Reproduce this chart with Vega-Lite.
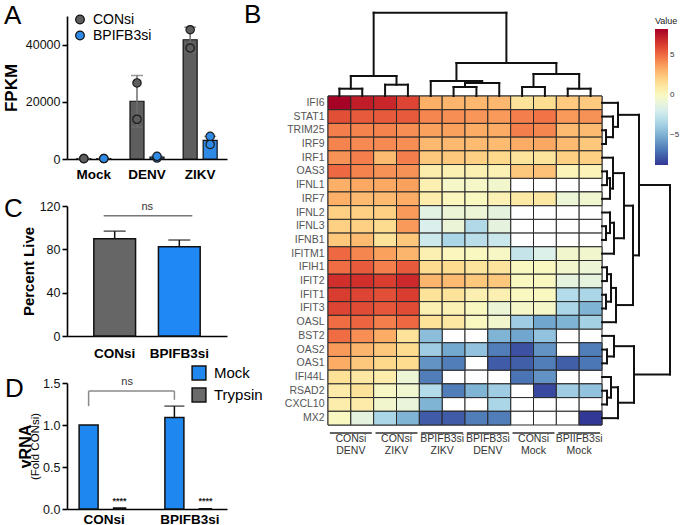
{
"$schema": "https://vega.github.io/schema/vega-lite/v6.json",
"padding": {"left": 2, "top": 1, "right": 0, "bottom": 0},
"config": {
  "font": "Liberation Sans",
  "view": {"stroke": null},
  "axis": {"grid": false, "domainColor": "#000", "domainWidth": 1.6, "tickColor": "#000", "tickWidth": 1.6, "tickSize": 5, "labelColor": "#111", "labelFontSize": 12.5, "titleColor": "#000", "labelFont": "Liberation Sans", "titleFont": "Liberation Sans"},
  "legend": {"labelFont": "Liberation Sans", "titleFont": "Liberation Sans"},
  "title": {"font": "Liberation Sans", "fontSize": 26, "fontWeight": "normal", "anchor": "start", "frame": "group", "color": "#000", "offset": 0}
},
"datasets": {
  "aBars": [
    {"cond": "Mock", "grp": "CONsi", "mean": 150, "lo": 100, "hi": 200},
    {"cond": "Mock", "grp": "BPIFB3si", "mean": 150, "lo": 100, "hi": 200},
    {"cond": "DENV", "grp": "CONsi", "mean": 20200, "lo": 11200, "hi": 29200},
    {"cond": "DENV", "grp": "BPIFB3si", "mean": 650, "lo": 350, "hi": 950},
    {"cond": "ZIKV", "grp": "CONsi", "mean": 41700, "lo": 37300, "hi": 46100},
    {"cond": "ZIKV", "grp": "BPIFB3si", "mean": 6500, "lo": 5100, "hi": 7900}
  ],
  "aPts": [
    {"cond": "Mock", "grp": "CONsi", "fpkm": 160}, {"cond": "Mock", "grp": "CONsi", "fpkm": 140},
    {"cond": "Mock", "grp": "BPIFB3si", "fpkm": 150}, {"cond": "Mock", "grp": "BPIFB3si", "fpkm": 170},
    {"cond": "DENV", "grp": "CONsi", "fpkm": 26600}, {"cond": "DENV", "grp": "CONsi", "fpkm": 13900},
    {"cond": "DENV", "grp": "BPIFB3si", "fpkm": 350}, {"cond": "DENV", "grp": "BPIFB3si", "fpkm": 940},
    {"cond": "ZIKV", "grp": "CONsi", "fpkm": 45200}, {"cond": "ZIKV", "grp": "CONsi", "fpkm": 38800},
    {"cond": "ZIKV", "grp": "BPIFB3si", "fpkm": 7900}, {"cond": "ZIKV", "grp": "BPIFB3si", "fpkm": 5100}
  ],
  "cBars": [
    {"grp": "CONsi", "live": 89.8, "hi": 96.8},
    {"grp": "BPIFB3si", "live": 82.5, "hi": 88.6}
  ],
  "cNs": [{"from": "CONsi", "to": "BPIFB3si", "y": 111, "ty": 119, "label": "ns"}],
  "dBars": [
    {"grp": "CONsi", "trt": "Mock", "v": 1.0},
    {"grp": "CONsi", "trt": "Trypsin", "v": 0.012},
    {"grp": "BPIFB3si", "trt": "Mock", "v": 1.09, "hi": 1.225},
    {"grp": "BPIFB3si", "trt": "Trypsin", "v": 0.003}
  ],
  "dStars": [
    {"grp": "CONsi", "trt": "Trypsin", "y": 0.1, "label": "****"},
    {"grp": "BPIFB3si", "trt": "Trypsin", "y": 0.1, "label": "****"}
  ],
  "dBracket": [
    {"a": "CONsi", "b": "CONsi", "y": 1.224, "y2": 1.404},
    {"a": "CONsi", "b": "BPIFB3si", "y": 1.404, "y2": 1.404},
    {"a": "BPIFB3si", "b": "BPIFB3si", "y": 1.30, "y2": 1.404}
  ],
  "dNs": [{"a": "CONsi", "y": 1.51, "label": "ns"}],
  "heat": [
    {"gene": "IFI6", "CD1": 8.2, "CD2": 7.3, "CZ1": 7.0, "CZ2": 6.1, "BZ1": 3.2, "BZ2": 3.0, "BD1": 2.9, "BD2": 2.9, "CM1": 1.3, "CM2": 1.6, "BM1": 2.3, "BM2": 2.3},
    {"gene": "STAT1", "CD1": 5.8, "CD2": 5.5, "CZ1": 5.5, "CZ2": 5.5, "BZ1": 4.3, "BZ2": 4.1, "BD1": 3.9, "BD2": 3.8, "CM1": 4.5, "CM2": 4.8, "BM1": 3.8, "BM2": 4.0},
    {"gene": "TRIM25", "CD1": 4.5, "CD2": 4.4, "CZ1": 4.4, "CZ2": 4.1, "BZ1": 3.6, "BZ2": 3.6, "BD1": 3.3, "BD2": 3.3, "CM1": 4.5, "CM2": 4.3, "BM1": 2.8, "BM2": 2.8},
    {"gene": "IRF9", "CD1": 4.4, "CD2": 4.2, "CZ1": 4.2, "CZ2": 4.1, "BZ1": 2.9, "BZ2": 2.9, "BD1": 2.8, "BD2": 2.8, "CM1": 3.3, "CM2": 3.4, "BM1": 2.8, "BM2": 2.4},
    {"gene": "IRF1", "CD1": 4.0, "CD2": 4.5, "CZ1": 2.8, "CZ2": 4.5, "BZ1": 2.4, "BZ2": 2.4, "BD1": 2.1, "BD2": 1.8, "CM1": 1.2, "CM2": 1.2, "BM1": 2.1, "BM2": 2.1},
    {"gene": "OAS3", "CD1": 5.1, "CD2": 4.4, "CZ1": 4.0, "CZ2": 4.0, "BZ1": 0.7, "BZ2": 0.5, "BD1": 0.5, "BD2": 0.4, "CM1": 2.4, "CM2": 2.6, "BM1": 0.3, "BM2": 0.3},
    {"gene": "IFNL1", "CD1": 3.2, "CD2": 3.4, "CZ1": 3.4, "CZ2": 3.6, "BZ1": 0.5, "BZ2": -0.3, "BD1": -0.3, "BD2": -0.5, "CM1": null, "CM2": null, "BM1": null, "BM2": null},
    {"gene": "IRF7", "CD1": 3.2, "CD2": 2.8, "CZ1": 2.8, "CZ2": 3.3, "BZ1": 0.7, "BZ2": 0.1, "BD1": 0.0, "BD2": 0.4, "CM1": 0.9, "CM2": 1.0, "BM1": -0.8, "BM2": -0.6},
    {"gene": "IFNL2", "CD1": 2.1, "CD2": 2.1, "CZ1": 2.1, "CZ2": 3.8, "BZ1": -1.4, "BZ2": -0.8, "BD1": -0.8, "BD2": -1.2, "CM1": null, "CM2": null, "BM1": null, "BM2": null},
    {"gene": "IFNL3", "CD1": 2.1, "CD2": 2.1, "CZ1": 1.7, "CZ2": 3.8, "BZ1": -1.8, "BZ2": -0.9, "BD1": -3.3, "BD2": -1.2, "CM1": null, "CM2": null, "BM1": null, "BM2": null},
    {"gene": "IFNB1", "CD1": 2.4, "CD2": 2.8, "CZ1": 1.3, "CZ2": 2.4, "BZ1": -2.3, "BZ2": -3.5, "BD1": -3.0, "BD2": -2.4, "CM1": null, "CM2": null, "BM1": null, "BM2": null},
    {"gene": "IFITM1", "CD1": 5.1, "CD2": 4.3, "CZ1": 3.6, "CZ2": 3.0, "BZ1": 0.5, "BZ2": 0.1, "BD1": 0.0, "BD2": -0.2, "CM1": -2.6, "CM2": -1.7, "BM1": -0.5, "BM2": -0.5},
    {"gene": "IFIH1", "CD1": 5.0, "CD2": 5.5, "CZ1": 4.5, "CZ2": 5.5, "BZ1": 1.7, "BZ2": 1.7, "BD1": 1.2, "BD2": 1.2, "CM1": 0.0, "CM2": 0.0, "BM1": -0.5, "BM2": -0.8},
    {"gene": "IFIT2", "CD1": 6.7, "CD2": 6.7, "CZ1": 6.3, "CZ2": 6.9, "BZ1": 3.0, "BZ2": 2.8, "BD1": 2.4, "BD2": 2.4, "CM1": 0.0, "CM2": 0.0, "BM1": -1.2, "BM2": -1.2},
    {"gene": "IFIT1", "CD1": 6.3, "CD2": 6.1, "CZ1": 5.8, "CZ2": 6.3, "BZ1": 1.3, "BZ2": 1.3, "BD1": 0.5, "BD2": 0.5, "CM1": 0.0, "CM2": 0.0, "BM1": -3.2, "BM2": -3.5},
    {"gene": "IFIT3", "CD1": 6.1, "CD2": 5.9, "CZ1": 5.6, "CZ2": 5.9, "BZ1": 0.5, "BZ2": 0.4, "BD1": 0.0, "BD2": -0.8, "CM1": -0.3, "CM2": -0.3, "BM1": -3.5, "BM2": -4.9},
    {"gene": "OASL", "CD1": 5.0, "CD2": 5.2, "CZ1": 4.5, "CZ2": 5.1, "BZ1": 1.3, "BZ2": 1.0, "BD1": 0.0, "BD2": -0.5, "CM1": -3.9, "CM2": -5.4, "BM1": -4.9, "BM2": -3.7},
    {"gene": "BST2", "CD1": 5.0, "CD2": 4.1, "CZ1": 3.3, "CZ2": 1.3, "BZ1": -4.5, "BZ2": null, "BD1": null, "BD2": -4.9, "CM1": -5.4, "CM2": -4.3, "BM1": null, "BM2": null},
    {"gene": "OAS2", "CD1": 3.8, "CD2": 3.0, "CZ1": 2.4, "CZ2": 1.7, "BZ1": -3.9, "BZ2": -5.3, "BD1": -4.3, "BD2": -6.7, "CM1": -8.0, "CM2": -6.0, "BM1": null, "BM2": -6.7},
    {"gene": "OAS1", "CD1": 3.3, "CD2": 2.4, "CZ1": 1.8, "CZ2": 1.7, "BZ1": -6.0, "BZ2": -6.7, "BD1": null, "BD2": -7.7, "CM1": -7.6, "CM2": -6.7, "BM1": -7.6, "BM2": -6.9},
    {"gene": "IFI44L", "CD1": 1.4, "CD2": 1.0, "CZ1": 0.7, "CZ2": -0.8, "BZ1": -6.7, "BZ2": null, "BD1": null, "BD2": null, "CM1": -7.0, "CM2": -6.0, "BM1": null, "BM2": null},
    {"gene": "RSAD2", "CD1": 0.8, "CD2": 1.3, "CZ1": -0.2, "CZ2": -0.6, "BZ1": -3.2, "BZ2": -6.7, "BD1": -4.9, "BD2": -3.9, "CM1": null, "CM2": -8.2, "BM1": -3.9, "BM2": -4.3},
    {"gene": "CXCL10", "CD1": 0.7, "CD2": 0.8, "CZ1": -0.5, "CZ2": -1.0, "BZ1": -4.9, "BZ2": null, "BD1": null, "BD2": -3.5, "CM1": null, "CM2": null, "BM1": null, "BM2": null},
    {"gene": "MX2", "CD1": 0.0, "CD2": -1.2, "CZ1": -3.5, "CZ2": -4.9, "BZ1": -7.7, "BZ2": -7.7, "BD1": -6.7, "BD2": -6.7, "CM1": null, "CM2": null, "BM1": null, "BM2": -8.7}
  ],
  "glabels": [
    {"g": "CONsi\nDENV"}, {"g": "CONsi\nZIKV"}, {"g": "BPIFB3si\nZIKV"},
    {"g": "BPIFB3si\nDENV"}, {"g": "CONsi\nMock"}, {"g": "BPIIFB3si\nMock"}
  ],
  "tden": [
    {"p1": 0.5, "p2": 0.5, "h1": 0, "h2": 7.3}, {"p1": 1.5, "p2": 1.5, "h1": 0, "h2": 7.3}, {"p1": 0.5, "p2": 1.5, "h1": 7.3, "h2": 7.3},
    {"p1": 2.5, "p2": 2.5, "h1": 0, "h2": 11.3}, {"p1": 3.5, "p2": 3.5, "h1": 0, "h2": 11.3}, {"p1": 2.5, "p2": 3.5, "h1": 11.3, "h2": 11.3},
    {"p1": 1, "p2": 1, "h1": 7.3, "h2": 20}, {"p1": 3, "p2": 3, "h1": 11.3, "h2": 20}, {"p1": 1, "p2": 3, "h1": 20, "h2": 20},
    {"p1": 5.5, "p2": 5.5, "h1": 0, "h2": 9}, {"p1": 6.5, "p2": 6.5, "h1": 0, "h2": 9}, {"p1": 5.5, "p2": 6.5, "h1": 9, "h2": 9},
    {"p1": 6, "p2": 6, "h1": 9, "h2": 13}, {"p1": 7.5, "p2": 7.5, "h1": 0, "h2": 13}, {"p1": 6, "p2": 7.5, "h1": 13, "h2": 13},
    {"p1": 4.5, "p2": 4.5, "h1": 0, "h2": 15}, {"p1": 6.75, "p2": 6.75, "h1": 13, "h2": 15}, {"p1": 4.5, "p2": 6.75, "h1": 15, "h2": 15},
    {"p1": 8.5, "p2": 8.5, "h1": 0, "h2": 9}, {"p1": 9.5, "p2": 9.5, "h1": 0, "h2": 9}, {"p1": 8.5, "p2": 9.5, "h1": 9, "h2": 9},
    {"p1": 10.5, "p2": 10.5, "h1": 0, "h2": 7.3}, {"p1": 11.5, "p2": 11.5, "h1": 0, "h2": 7.3}, {"p1": 10.5, "p2": 11.5, "h1": 7.3, "h2": 7.3},
    {"p1": 9, "p2": 9, "h1": 9, "h2": 22}, {"p1": 11, "p2": 11, "h1": 7.3, "h2": 22}, {"p1": 9, "p2": 11, "h1": 22, "h2": 22},
    {"p1": 5.625, "p2": 5.625, "h1": 15, "h2": 33}, {"p1": 10, "p2": 10, "h1": 22, "h2": 33}, {"p1": 5.625, "p2": 10, "h1": 33, "h2": 33},
    {"p1": 2, "p2": 2, "h1": 20, "h2": 83.3}, {"p1": 7.8125, "p2": 7.8125, "h1": 33, "h2": 83.3}, {"p1": 2, "p2": 7.8125, "h1": 83.3, "h2": 83.3}
  ],
  "rden": [
    {"d1": 0, "d2": 4, "r1": 2.5, "r2": 2.5}, {"d1": 0, "d2": 4, "r1": 3.5, "r2": 3.5}, {"d1": 4, "d2": 4, "r1": 2.5, "r2": 3.5},
    {"d1": 0, "d2": 11, "r1": 1.5, "r2": 1.5}, {"d1": 4, "d2": 11, "r1": 3, "r2": 3}, {"d1": 11, "d2": 11, "r1": 1.5, "r2": 3},
    {"d1": 0, "d2": 16, "r1": 0.5, "r2": 0.5}, {"d1": 11, "d2": 16, "r1": 2.25, "r2": 2.25}, {"d1": 16, "d2": 16, "r1": 0.5, "r2": 2.25},
    {"d1": 0, "d2": 5, "r1": 5.5, "r2": 5.5}, {"d1": 0, "d2": 5, "r1": 6.5, "r2": 6.5}, {"d1": 5, "d2": 5, "r1": 5.5, "r2": 6.5},
    {"d1": 5, "d2": 8, "r1": 6, "r2": 6}, {"d1": 0, "d2": 8, "r1": 7.5, "r2": 7.5}, {"d1": 8, "d2": 8, "r1": 6, "r2": 7.5},
    {"d1": 0, "d2": 11, "r1": 4.5, "r2": 4.5}, {"d1": 8, "d2": 11, "r1": 6.75, "r2": 6.75}, {"d1": 11, "d2": 11, "r1": 4.5, "r2": 6.75},
    {"d1": 0, "d2": 4, "r1": 9.5, "r2": 9.5}, {"d1": 0, "d2": 4, "r1": 10.5, "r2": 10.5}, {"d1": 4, "d2": 4, "r1": 9.5, "r2": 10.5},
    {"d1": 0, "d2": 8, "r1": 8.5, "r2": 8.5}, {"d1": 4, "d2": 8, "r1": 10, "r2": 10}, {"d1": 8, "d2": 8, "r1": 8.5, "r2": 10},
    {"d1": 8, "d2": 12, "r1": 9.25, "r2": 9.25}, {"d1": 0, "d2": 12, "r1": 11.5, "r2": 11.5}, {"d1": 12, "d2": 12, "r1": 9.25, "r2": 11.5},
    {"d1": 11, "d2": 22, "r1": 5.625, "r2": 5.625}, {"d1": 12, "d2": 22, "r1": 10.375, "r2": 10.375}, {"d1": 22, "d2": 22, "r1": 5.625, "r2": 10.375},
    {"d1": 0, "d2": 5, "r1": 12.5, "r2": 12.5}, {"d1": 0, "d2": 5, "r1": 13.5, "r2": 13.5}, {"d1": 5, "d2": 5, "r1": 12.5, "r2": 13.5},
    {"d1": 0, "d2": 4, "r1": 14.5, "r2": 14.5}, {"d1": 0, "d2": 4, "r1": 15.5, "r2": 15.5}, {"d1": 4, "d2": 4, "r1": 14.5, "r2": 15.5},
    {"d1": 5, "d2": 9, "r1": 13, "r2": 13}, {"d1": 4, "d2": 9, "r1": 15, "r2": 15}, {"d1": 9, "d2": 9, "r1": 13, "r2": 15},
    {"d1": 9, "d2": 14, "r1": 14, "r2": 14}, {"d1": 0, "d2": 14, "r1": 16.5, "r2": 16.5}, {"d1": 14, "d2": 14, "r1": 14, "r2": 16.5},
    {"d1": 22, "d2": 31, "r1": 8, "r2": 8}, {"d1": 14, "d2": 31, "r1": 15.25, "r2": 15.25}, {"d1": 31, "d2": 31, "r1": 8, "r2": 15.25},
    {"d1": 16, "d2": 37, "r1": 1.375, "r2": 1.375}, {"d1": 31, "d2": 37, "r1": 11.625, "r2": 11.625}, {"d1": 37, "d2": 37, "r1": 1.375, "r2": 11.625},
    {"d1": 0, "d2": 5, "r1": 18.5, "r2": 18.5}, {"d1": 0, "d2": 5, "r1": 19.5, "r2": 19.5}, {"d1": 5, "d2": 5, "r1": 18.5, "r2": 19.5},
    {"d1": 0, "d2": 12, "r1": 17.5, "r2": 17.5}, {"d1": 5, "d2": 12, "r1": 19, "r2": 19}, {"d1": 12, "d2": 12, "r1": 17.5, "r2": 19},
    {"d1": 0, "d2": 5, "r1": 21.5, "r2": 21.5}, {"d1": 0, "d2": 5, "r1": 22.5, "r2": 22.5}, {"d1": 5, "d2": 5, "r1": 21.5, "r2": 22.5},
    {"d1": 0, "d2": 9, "r1": 20.5, "r2": 20.5}, {"d1": 5, "d2": 9, "r1": 22, "r2": 22}, {"d1": 9, "d2": 9, "r1": 20.5, "r2": 22},
    {"d1": 9, "d2": 16, "r1": 21.25, "r2": 21.25}, {"d1": 0, "d2": 16, "r1": 23.5, "r2": 23.5}, {"d1": 16, "d2": 16, "r1": 21.25, "r2": 23.5},
    {"d1": 12, "d2": 32, "r1": 18.25, "r2": 18.25}, {"d1": 16, "d2": 32, "r1": 22.375, "r2": 22.375}, {"d1": 32, "d2": 32, "r1": 18.25, "r2": 22.375},
    {"d1": 37, "d2": 68, "r1": 6.5, "r2": 6.5}, {"d1": 32, "d2": 68, "r1": 20.3125, "r2": 20.3125}, {"d1": 68, "d2": 68, "r1": 6.5, "r2": 20.3125}
  ]
},
"spacing": 261,
"bounds": "flush",
"resolve": {"scale": {"color": "independent", "fill": "independent"}, "legend": {"color": "independent", "fill": "independent"}},
"hconcat": [
  {
    "spacing": 47,
    "bounds": "flush",
    "resolve": {"scale": {"color": "independent", "fill": "independent"}, "legend": {"color": "independent", "fill": "independent"}},
    "vconcat": [
      {
        "title": {"text": "A", "dx": -63, "dy": 20.5},
        "width": 160, "height": 143,
        "data": {"name": "aBars"},
        "layer": [
          {
            "transform": [{"filter": "datum.grp == 'CONsi'"}],
            "mark": {"type": "bar", "stroke": "#111", "strokeWidth": 1.2, "width": 14, "xOffset": -10},
            "encoding": {
              "x": {"field": "cond", "type": "nominal", "scale": {"domain": ["Mock", "DENV", "ZIKV"], "paddingInner": 0.364, "paddingOuter": 0.187}, "axis": {"title": null, "labelAngle": 0, "labelFontWeight": "bold", "labelFontSize": 13.5, "ticks": false, "labelPadding": 8, "labelColor": "#000"}},
              "y": {"field": "mean", "type": "quantitative", "scale": {"domain": [0, 50000], "nice": false}, "axis": {"title": "FPKM", "titleFontSize": 17, "titleFontWeight": "bold", "values": [0, 10000, 20000, 30000, 40000, 50000], "format": "d", "titlePadding": 5}},
              "color": {"field": "grp", "type": "nominal", "scale": {"domain": ["CONsi", "BPIFB3si"], "range": ["#5e5e5e", "#2f8ae6"]}, "legend": {"orient": "none", "legendX": 6, "legendY": -3.5, "title": null, "labelFontSize": 14, "labelColor": "#000", "symbolSize": 75, "symbolType": "circle", "rowPadding": 2, "labelOffset": 6, "symbolStrokeColor": "#111", "symbolStrokeWidth": 1.2}}
            }
          },
          {
            "transform": [{"filter": "datum.grp == 'BPIFB3si'"}],
            "mark": {"type": "bar", "stroke": "#111", "strokeWidth": 1.2, "width": 14, "xOffset": 10},
            "encoding": {
              "x": {"field": "cond", "type": "nominal"},
              "y": {"field": "mean", "type": "quantitative"},
              "color": {"field": "grp", "type": "nominal"}
            }
          },
          {
            "transform": [{"filter": "datum.grp == 'CONsi'"}],
            "mark": {"type": "rule", "color": "#6e6e6e", "strokeWidth": 1.5, "xOffset": -10},
            "encoding": {"x": {"field": "cond", "type": "nominal"}, "y": {"field": "lo", "type": "quantitative"}, "y2": {"field": "hi"}}
          },
          {
            "transform": [{"filter": "datum.grp == 'BPIFB3si'"}],
            "mark": {"type": "rule", "color": "#6e6e6e", "strokeWidth": 1.5, "xOffset": 10},
            "encoding": {"x": {"field": "cond", "type": "nominal"}, "y": {"field": "lo", "type": "quantitative"}, "y2": {"field": "hi"}}
          },
          {
            "transform": [{"filter": "datum.grp == 'CONsi'"}],
            "mark": {"type": "tick", "orient": "horizontal", "size": 12, "thickness": 1.5, "color": "#6e6e6e", "xOffset": -10},
            "encoding": {"x": {"field": "cond", "type": "nominal"}, "y": {"field": "hi", "type": "quantitative"}}
          },
          {
            "transform": [{"filter": "datum.grp == 'CONsi'"}],
            "mark": {"type": "tick", "orient": "horizontal", "size": 12, "thickness": 1.5, "color": "#6e6e6e", "xOffset": -10},
            "encoding": {"x": {"field": "cond", "type": "nominal"}, "y": {"field": "lo", "type": "quantitative"}}
          },
          {
            "transform": [{"filter": "datum.grp == 'BPIFB3si'"}],
            "mark": {"type": "tick", "orient": "horizontal", "size": 12, "thickness": 1.5, "color": "#6e6e6e", "xOffset": 10},
            "encoding": {"x": {"field": "cond", "type": "nominal"}, "y": {"field": "hi", "type": "quantitative"}}
          },
          {
            "data": {"name": "aPts"},
            "transform": [{"filter": "datum.grp == 'CONsi'"}],
            "mark": {"type": "point", "filled": true, "size": 70, "stroke": "#1a1a1a", "strokeWidth": 1.2, "opacity": 1, "xOffset": -10},
            "encoding": {"x": {"field": "cond", "type": "nominal"}, "y": {"field": "fpkm", "type": "quantitative"}, "color": {"field": "grp", "type": "nominal"}}
          },
          {
            "data": {"name": "aPts"},
            "transform": [{"filter": "datum.grp == 'BPIFB3si'"}],
            "mark": {"type": "point", "filled": true, "size": 70, "stroke": "#1a1a1a", "strokeWidth": 1.2, "opacity": 1, "xOffset": 10},
            "encoding": {"x": {"field": "cond", "type": "nominal"}, "y": {"field": "fpkm", "type": "quantitative"}, "color": {"field": "grp", "type": "nominal"}}
          }
        ]
      },
      {
        "title": {"text": "C", "dx": -63, "dy": 26},
        "width": 160, "height": 130,
        "data": {"name": "cBars"},
        "layer": [
          {
            "mark": {"type": "bar", "stroke": "#111", "strokeWidth": 1.5},
            "encoding": {
              "x": {"field": "grp", "type": "nominal", "scale": {"domain": ["CONsi", "BPIFB3si"], "paddingInner": 0.354, "paddingOuter": 0.415}, "axis": {"title": null, "labelAngle": 0, "labelFontWeight": "bold", "labelFontSize": 13.5, "ticks": false, "labelPadding": 10, "labelColor": "#000"}},
              "y": {"field": "live", "type": "quantitative", "scale": {"domain": [0, 120], "nice": false}, "axis": {"title": "Percent Live", "titleFontSize": 15, "titleFontWeight": "bold", "values": [0, 20, 40, 60, 80, 100, 120], "titlePadding": 3}},
              "fill": {"field": "grp", "type": "nominal", "scale": {"domain": ["CONsi", "BPIFB3si"], "range": ["#666666", "#1f88f5"]}, "legend": null}
            }
          },
          {
            "mark": {"type": "rule", "color": "#111", "strokeWidth": 1.5},
            "encoding": {"x": {"field": "grp", "type": "nominal"}, "y": {"field": "live", "type": "quantitative"}, "y2": {"field": "hi"}}
          },
          {
            "mark": {"type": "tick", "orient": "horizontal", "size": 22, "thickness": 1.5, "color": "#111"},
            "encoding": {"x": {"field": "grp", "type": "nominal"}, "y": {"field": "hi", "type": "quantitative"}}
          },
          {
            "data": {"name": "cNs"},
            "mark": {"type": "rule", "color": "#777", "strokeWidth": 1.5, "xOffset": -11, "x2Offset": 13},
            "encoding": {"x": {"field": "from", "type": "nominal"}, "x2": {"field": "to"}, "y": {"field": "y", "type": "quantitative"}}
          },
          {
            "data": {"name": "cNs"},
            "mark": {"type": "text", "dx": 32.5, "fontSize": 11, "color": "#333", "baseline": "middle"},
            "encoding": {"x": {"field": "from", "type": "nominal"}, "y": {"field": "ty", "type": "quantitative"}, "text": {"field": "label"}}
          }
        ]
      },
      {
        "title": {"text": "D", "dx": -62, "dy": 41},
        "width": 160, "height": 126,
        "resolve": {"axis": {"y": "independent"}},
        "layer": [
          {
            "data": {"name": "dBars"},
            "transform": [{"filter": "datum.trt == 'Mock'"}],
            "mark": {"type": "bar", "stroke": "#111", "strokeWidth": 1.5, "width": 19, "xOffset": -15.5},
            "encoding": {
              "x": {"field": "grp", "type": "nominal", "scale": {"domain": ["CONsi", "BPIFB3si"], "paddingInner": 0.415, "paddingOuter": 0.14}, "axis": {"title": null, "labelAngle": 0, "labelFontWeight": "bold", "labelFontSize": 13.5, "ticks": false, "labelPadding": 3, "labelColor": "#000"}},
              "y": {"field": "v", "type": "quantitative", "scale": {"domain": [0, 1.5], "nice": false}, "axis": {"orient": "left", "title": "(Fold CONsi)", "titleFontSize": 11.5, "titleFontWeight": "normal", "values": [0, 0.5, 1, 1.5], "format": ".1f", "titlePadding": 2}},
              "color": {"field": "trt", "type": "nominal", "scale": {"domain": ["Mock", "Trypsin"], "range": ["#1e88f0", "#6a6a6a"]}, "legend": {"orient": "none", "legendX": 124, "legendY": -18, "title": null, "symbolType": "square", "symbolSize": 190, "symbolStrokeColor": "#111", "symbolStrokeWidth": 1.5, "labelFontSize": 15, "labelColor": "#000", "rowPadding": 2, "labelOffset": 7}}
            }
          },
          {
            "data": {"name": "dBars"},
            "transform": [{"filter": "datum.trt == 'Trypsin'"}],
            "mark": {"type": "bar", "stroke": "#111", "strokeWidth": 1.5, "width": 12, "xOffset": 15.5},
            "encoding": {
              "x": {"field": "grp", "type": "nominal"},
              "y": {"field": "v", "type": "quantitative", "axis": null},
              "color": {"field": "trt", "type": "nominal"}
            }
          },
          {
            "data": {"name": "dBars"},
            "transform": [{"filter": "isValid(datum.hi)"}],
            "mark": {"type": "rule", "color": "#111", "strokeWidth": 1.5, "xOffset": -15.5},
            "encoding": {"x": {"field": "grp", "type": "nominal"}, "y": {"field": "v", "type": "quantitative", "axis": null}, "y2": {"field": "hi"}}
          },
          {
            "data": {"name": "dBars"},
            "transform": [{"filter": "isValid(datum.hi)"}],
            "mark": {"type": "tick", "orient": "horizontal", "size": 20, "thickness": 1.5, "color": "#111", "xOffset": -15.5},
            "encoding": {"x": {"field": "grp", "type": "nominal"}, "y": {"field": "hi", "type": "quantitative", "axis": null}}
          },
          {
            "data": {"name": "dBracket"},
            "mark": {"type": "rule", "color": "#8a8a8a", "strokeWidth": 1.5, "xOffset": -15.5, "x2Offset": -15.5},
            "encoding": {
              "x": {"field": "a", "type": "nominal"},
              "x2": {"field": "b"},
              "y": {"field": "y", "type": "quantitative", "axis": {"orient": "left", "title": "vRNA", "titleFontSize": 16, "titleFontWeight": "bold", "labels": false, "ticks": false, "domain": false, "offset": 34, "titlePadding": 0}},
              "y2": {"field": "y2"}
            }
          },
          {
            "data": {"name": "dNs"},
            "mark": {"type": "text", "dx": 23, "fontSize": 11, "color": "#333", "baseline": "middle"},
            "encoding": {"x": {"field": "a", "type": "nominal"}, "y": {"field": "y", "type": "quantitative", "axis": null}, "text": {"field": "label"}}
          },
          {
            "data": {"name": "dStars"},
            "mark": {"type": "text", "fontSize": 9, "fontWeight": "bold", "color": "#222", "baseline": "middle", "xOffset": 15.5},
            "encoding": {"x": {"field": "grp", "type": "nominal"}, "y": {"field": "y", "type": "quantitative", "axis": null}, "text": {"field": "label"}}
          }
        ]
      }
    ]
  },
  {
    "spacing": 0,
    "bounds": "flush",
    "vconcat": [
      {
        "title": {"text": "B", "dx": -84, "dy": 20.5},
        "width": 342, "height": 409,
        "resolve": {"scale": {"x": "independent", "y": "independent"}, "axis": {"x": "independent", "y": "independent"}},
        "layer": [
          {
            "data": {"name": "heat"},
            "transform": [{"fold": ["CD1", "CD2", "CZ1", "CZ2", "BZ1", "BZ2", "BD1", "BD2", "CM1", "CM2", "BM1", "BM2"], "as": ["sample", "v"]}],
            "mark": {"type": "rect", "fill": "#ffffff", "stroke": "#2a2a2a", "strokeWidth": 1},
            "encoding": {
              "x": {"field": "sample", "type": "nominal", "axis": null, "scale": {"domain": ["CD1", "CD2", "CZ1", "CZ2", "BZ1", "BZ2", "BD1", "BD2", "CM1", "CM2", "BM1", "BM2"], "range": [0, 274], "paddingInner": 0, "paddingOuter": 0}},
              "y": {"field": "gene", "type": "nominal", "scale": {"domain": ["IFI6", "STAT1", "TRIM25", "IRF9", "IRF1", "OAS3", "IFNL1", "IRF7", "IFNL2", "IFNL3", "IFNB1", "IFITM1", "IFIH1", "IFIT2", "IFIT1", "IFIT3", "OASL", "BST2", "OAS2", "OAS1", "IFI44L", "RSAD2", "CXCL10", "MX2"], "range": [80, 409], "paddingInner": 0, "paddingOuter": 0}, "axis": {"orient": "left", "title": null, "domain": false, "ticks": false, "labelPadding": 4, "labelFontSize": 10.5, "labelColor": "#555"}}
            }
          },
          {
            "data": {"name": "heat"},
            "transform": [{"fold": ["CD1", "CD2", "CZ1", "CZ2", "BZ1", "BZ2", "BD1", "BD2", "CM1", "CM2", "BM1", "BM2"], "as": ["sample", "v"]}, {"filter": "isValid(datum.v)"}],
            "mark": {"type": "rect", "stroke": "#2a2a2a", "strokeWidth": 1},
            "encoding": {
              "x": {"field": "sample", "type": "nominal", "axis": null, "scale": {"domain": ["CD1", "CD2", "CZ1", "CZ2", "BZ1", "BZ2", "BD1", "BD2", "CM1", "CM2", "BM1", "BM2"], "range": [0, 274], "paddingInner": 0, "paddingOuter": 0}},
              "y": {"field": "gene", "type": "nominal", "axis": null, "scale": {"domain": ["IFI6", "STAT1", "TRIM25", "IRF9", "IRF1", "OAS3", "IFNL1", "IRF7", "IFNL2", "IFNL3", "IFNB1", "IFITM1", "IFIH1", "IFIT2", "IFIT1", "IFIT3", "OASL", "BST2", "OAS2", "OAS1", "IFI44L", "RSAD2", "CXCL10", "MX2"], "range": [80, 409], "paddingInner": 0, "paddingOuter": 0}},
              "color": {"field": "v", "type": "quantitative", "scale": {"scheme": "redyellowblue", "reverse": true, "domain": [-8.75, 8.25], "domainMid": 0}, "legend": {"orient": "none", "legendX": 327, "legendY": 1, "title": "Value", "titleFontSize": 9, "titleFontWeight": "normal", "titleColor": "#222", "titlePadding": 3, "gradientLength": 136, "gradientThickness": 13, "gradientStrokeWidth": 0, "labelFontSize": 8, "labelColor": "#333", "values": [5, 0, -5], "direction": "vertical"}}
            }
          },
          {
            "data": {"name": "tden"},
            "mark": {"type": "rule", "color": "#111", "strokeWidth": 2, "strokeCap": "square"},
            "encoding": {
              "x": {"field": "p1", "type": "quantitative", "scale": {"domain": [0, 12], "range": [0, 274], "nice": false, "zero": false}, "axis": null},
              "x2": {"field": "p2"},
              "y": {"field": "h1", "type": "quantitative", "scale": {"domain": [0, 80], "range": [80, 0], "nice": false, "zero": false}, "axis": null},
              "y2": {"field": "h2"}
            }
          },
          {
            "data": {"name": "rden"},
            "mark": {"type": "rule", "color": "#111", "strokeWidth": 2, "strokeCap": "square"},
            "encoding": {
              "x": {"field": "d1", "type": "quantitative", "scale": {"domain": [0, 68], "range": [274, 342], "nice": false, "zero": false}, "axis": null},
              "x2": {"field": "d2"},
              "y": {"field": "r1", "type": "quantitative", "scale": {"domain": [0, 24], "range": [80, 409], "nice": false, "zero": false}, "axis": null},
              "y2": {"field": "r2"}
            }
          }
        ]
      },
      {
        "width": 274, "height": 16,
        "data": {"name": "glabels"},
        "layer": [
          {
            "mark": {"type": "tick", "orient": "horizontal", "size": 42, "thickness": 2, "color": "#222"},
            "encoding": {
              "x": {"field": "g", "type": "nominal", "sort": null, "axis": null, "scale": {"paddingInner": 0, "paddingOuter": 0}}
            }
          },
          {
            "mark": {"type": "text", "lineBreak": "\n", "baseline": "top", "dy": 1, "fontSize": 10.5, "lineHeight": 12, "color": "#333"},
            "encoding": {
              "x": {"field": "g", "type": "nominal", "sort": null},
              "text": {"field": "g"}
            }
          }
        ]
      }
    ]
  }
]
}
